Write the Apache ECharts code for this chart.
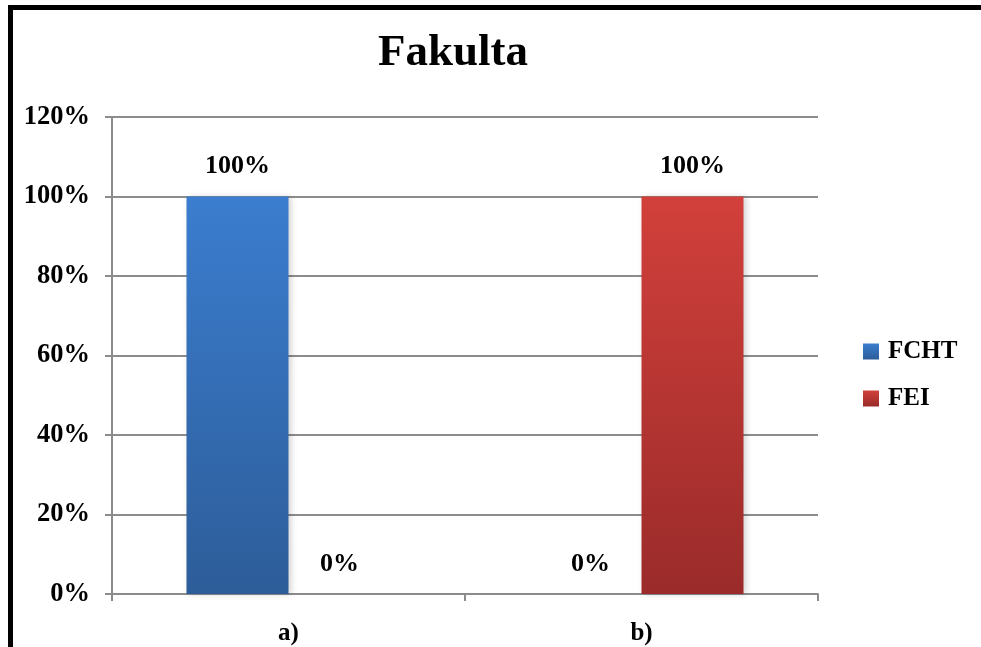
<!DOCTYPE html>
<html>
<head>
<meta charset="utf-8">
<script src="https://cdn.jsdelivr.net/npm/echarts@6/dist/echarts.min.js"></script>
<style>
  html, body { margin: 0; padding: 0; background: #fff; }
  #chart { width: 981px; height: 647px; }
</style>
</head>
<body>
<div id="chart"></div>
<script>
// data
const categories = ['a)', 'b)'];
const fchtValues = [100, 0];
const feiValues = [0, 100];
const yTicks = [0, 20, 40, 60, 80, 100, 120];

const serif = '"Liberation Serif", "Times New Roman", serif';

const chart = echarts.init(document.getElementById('chart'));

function grad(top, bottom) {
    return new echarts.graphic.LinearGradient(0, 0, 0, 1, [
        { offset: 0, color: top },
        { offset: 1, color: bottom }
    ]);
}

const labelStyle = {
    show: true,
    position: 'top',
    distance: 17,
    formatter: p => p.value + '%',
    fontFamily: serif,
    fontWeight: 'bold',
    fontSize: 26,
    color: '#000'
};

chart.setOption({
    backgroundColor: '#fff',
    animation: false,
    title: {
        text: 'Fakulta',
        left: 448,
        top: 26,
        textAlign: 'center',
        textStyle: {
            fontFamily: serif,
            fontWeight: 'bold',
            fontSize: 45,
            color: '#000'
        }
    },
    legend: {
        orient: 'vertical',
        left: 858,
        top: 334,
        itemWidth: 16,
        itemHeight: 16,
        itemGap: 22,
        icon: 'rect',
        textStyle: {
            fontFamily: serif,
            fontWeight: 'bold',
            fontSize: 25,
            color: '#000',
            padding: [0, 0, 0, 4]
        },
        data: ['FCHT', 'FEI']
    },
    grid: {
        left: 112,
        right: 163,
        top: 117,
        bottom: 53
    },
    xAxis: {
        type: 'category',
        data: categories,
        axisLine: { lineStyle: { color: '#8c8c8c', width: 2 } },
        axisTick: { show: true, length: 7, lineStyle: { color: '#8c8c8c', width: 2 } },
        axisLabel: {
            margin: 27,
            fontFamily: serif,
            fontWeight: 'bold',
            fontSize: 25,
            color: '#000'
        }
    },
    yAxis: {
        type: 'value',
        min: yTicks[0],
        max: yTicks[yTicks.length - 1],
        interval: 20,
        axisLine: { show: true, lineStyle: { color: '#8c8c8c', width: 2 } },
        axisTick: { show: true, length: 7, lineStyle: { color: '#8c8c8c', width: 2 } },
        splitLine: { lineStyle: { color: '#8c8c8c', width: 2 } },
        axisLabel: {
            margin: 22,
            padding: [5, 0, 0, 0],
            formatter: '{value}%',
            fontFamily: serif,
            fontWeight: 'bold',
            fontSize: 26.5,
            color: '#000'
        }
    },
    series: [
        {
            name: 'FCHT',
            type: 'bar',
            barWidth: 102,
            barGap: '0%',
            data: fchtValues,
            itemStyle: {
                color: grad('#3b7dcf', '#2d5d99'),
                shadowColor: 'rgba(0,0,0,0.18)',
                shadowBlur: 6,
                shadowOffsetX: 2
            },
            label: labelStyle
        },
        {
            name: 'FEI',
            type: 'bar',
            barWidth: 102,
            barGap: '0%',
            data: feiValues,
            itemStyle: {
                color: grad('#d2403b', '#9a2b2a'),
                shadowColor: 'rgba(0,0,0,0.18)',
                shadowBlur: 6,
                shadowOffsetX: 2
            },
            label: labelStyle
        }
    ],
    graphic: [
        {
            type: 'rect',
            shape: { x: 10.5, y: 7.5, width: 1000, height: 700 },
            style: { fill: 'none', stroke: '#000', lineWidth: 5 },
            silent: true
        }
    ]
});
</script>
</body>
</html>
